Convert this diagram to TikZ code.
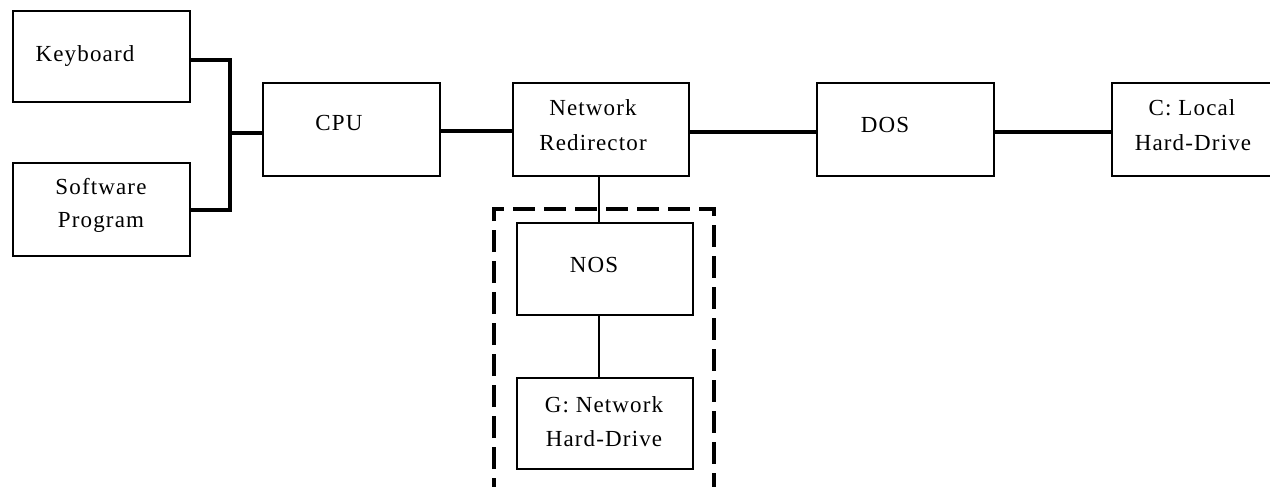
\documentclass[tikz,border=0pt]{standalone}
\usepackage{fontspec}
\setmainfont{Liberation Serif}[LetterSpace=5]
\begin{document}
\begin{tikzpicture}[x=1pt,y=-1pt,
  box/.style={draw,line width=1.8pt,inner sep=0pt},
  lbl/.style={anchor=base,inner sep=0pt,font=\fontsize{23}{34}\selectfont},
  thickline/.style={line width=3.6pt},
  thinline/.style={line width=1.8pt},
  dashbox/.style={draw,line width=3.2pt,dash pattern=on 22pt off 9pt}]
\useasboundingbox (0,0) rectangle (1270,487);
% boxes
\node[box,minimum width=177pt,minimum height=91pt] (kb) at (101.5,56.5) {};
\node[box,minimum width=177pt,minimum height=93pt] (sw) at (101.5,209.5) {};
\node[box,minimum width=177pt,minimum height=93pt] (cpu) at (351.5,129.5) {};
\node[box,minimum width=176pt,minimum height=93pt] (nr) at (601,129.5) {};
\node[box,minimum width=177pt,minimum height=93pt] (dos) at (905.5,129.5) {};
\node[box,minimum width=176pt,minimum height=93pt] (loc) at (1200,129.5) {};
\node[box,minimum width=176pt,minimum height=92pt] (nos) at (605,269) {};
\node[box,minimum width=176pt,minimum height=91pt] (gnd) at (605,423.5) {};
% dashed enclosure
\draw[dashbox] (494,500) -- (494,209) -- (714,209) -- (714,500);
% labels
\node[lbl] (tkb) at (85,62) {Keyboard};
\node[lbl] (tsw1) at (101,194) {Software};
\node[lbl] (tsw2) at (101,227) {Program};
\node[lbl] (tcpu) at (339,130) {CPU};
\node[lbl] (tnr1) at (593,115) {Network};
\node[lbl] (tnr2) at (593,150) {Redirector};
\node[lbl] (tnos) at (594,272) {NOS};
\node[lbl] (tg1) at (604,412) {G: Network};
\node[lbl] (tg2) at (604,446) {Hard-Drive};
\node[lbl] (tdos) at (885,132) {DOS};
\node[lbl] (tl1) at (1192,115) {C: Local};
\node[lbl] (tl2) at (1193,150) {Hard-Drive};
% connectors
\coordinate (j) at (230,133);
\draw[thickline] (kb.east |- 0,60) -| (j);
\draw[thickline] (sw.east |- 0,210) -| (j);
\draw[thickline] (j) -- (cpu.west |- j);
\draw[thickline] (cpu.east |- 0,131) -- (nr.west |- 0,131);
\draw[thickline] (nr.east |- 0,132) -- (dos.west |- 0,132);
\draw[thickline] (dos.east |- 0,132) -- (loc.west |- 0,132);
\draw[thinline] (nr.south -| 599,0) -- (nos.north -| 599,0);
\draw[thinline] (nos.south -| 599,0) -- (gnd.north -| 599,0);
\end{tikzpicture}
\end{document}
